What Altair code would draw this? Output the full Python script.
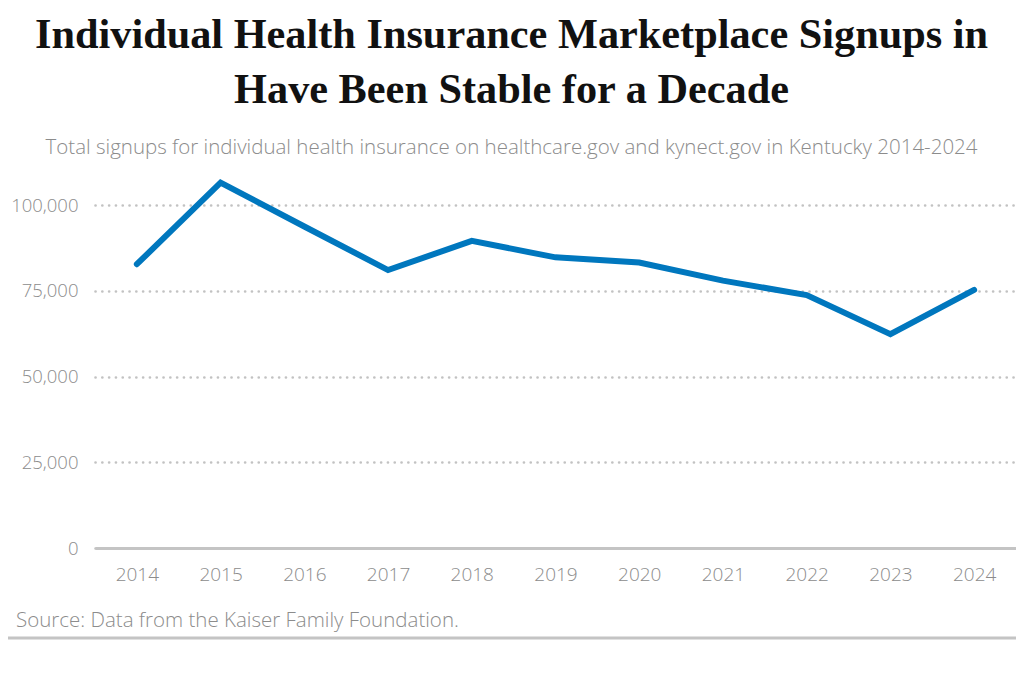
import altair as alt
import pandas as pd

years = ["2014", "2015", "2016", "2017", "2018", "2019", "2020", "2021", "2022", "2023", "2024"]
signups = [82800, 106600, 93800, 81100, 89600, 84800, 83300, 78000, 73800, 62400, 75300]
y_ticks = [0, 25000, 50000, 75000, 100000]

title_lines = ["Individual Health Insurance Marketplace Signups in", "Have Been Stable for a Decade"]
subtitle = "Total signups for individual health insurance on healthcare.gov and kynect.gov in Kentucky 2014-2024"
source = "Source: Data from the Kaiser Family Foundation."

df = pd.DataFrame({"year": years, "signups": signups})

W, H = 921, 377
GRAY = "#8c8c8c"
SANS = "Open Sans"

line = alt.Chart(df).mark_line(
    color="#0077be", strokeWidth=6, strokeCap="round", strokeJoin="miter"
).encode(
    x=alt.X("year:O", sort=years,
            scale=alt.Scale(type="point", padding=0.5),
            axis=alt.Axis(title=None, labelAngle=0, ticks=False, domain=True,
                          domainColor="#c4c4c4", domainWidth=3,
                          labelColor=GRAY, labelFont=SANS, labelFontSize=19,
                          labelFontWeight=300,
                          labelPadding=17, grid=False)),
    y=alt.Y("signups:Q",
            scale=alt.Scale(domain=[0, 110000], nice=False),
            axis=alt.Axis(title=None, values=y_ticks, format=",d", ticks=False, domain=False,
                          labelColor=GRAY, labelFont=SANS, labelFontSize=18.5,
                          labelFontWeight=300, labelPadding=17,
                          grid=True, gridColor="#c2c2c2", gridWidth=2.6,
                          gridDash=[0.1, 6.7], gridCap="round")),
)

src = alt.Chart(pd.DataFrame({"t": [source]})).mark_text(
    align="left", baseline="middle", font=SANS, fontSize=20.5, fontWeight=300, color=GRAY
).encode(x=alt.value(-79), y=alt.value(450), text="t:N")

bottom_rule = alt.Chart(pd.DataFrame({"a": [0]})).mark_rule(
    color="#c4c4c4", strokeWidth=3
).encode(x=alt.value(-87), x2=alt.value(W), y=alt.value(467))

chart = alt.layer(line, src, bottom_rule).properties(
    width=W, height=H,
    autosize=alt.AutoSizeParams(type="none"),
    padding={"left": 87, "top": 163, "right": 0, "bottom": 100},
    title=alt.TitleParams(
        text=title_lines,
        subtitle=subtitle,
        anchor="middle",
        dx=-44,
        font="Liberation Serif", fontSize=42.3, fontWeight="bold", color="#111111",
        lineHeight=55,
        subtitleFont=SANS, subtitleFontSize=20.5, subtitleFontWeight=300,
        subtitleColor=GRAY,
        subtitlePadding=26,
        offset=11,
    ),
).configure(background="white").configure_view(strokeWidth=0, stroke="transparent")

chart.save("out.html", embed_options={"renderer": "svg", "actions": False})
